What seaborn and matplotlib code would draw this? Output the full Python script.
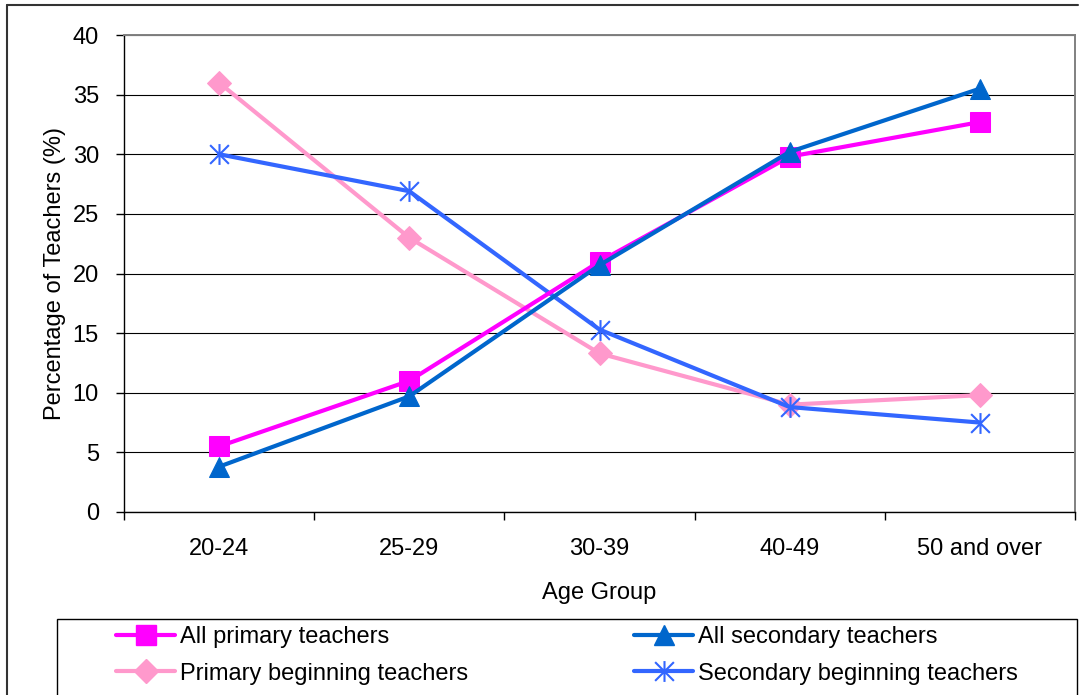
import matplotlib
matplotlib.use("Agg")
import matplotlib.pyplot as plt
from matplotlib.path import Path
from matplotlib.lines import Line2D
import seaborn as sns
import pandas as pd

age_groups = ["20-24", "25-29", "30-39", "40-49", "50 and over"]
all_primary = [5.5, 11.0, 21.0, 29.8, 32.7]
all_secondary = [3.8, 9.7, 20.7, 30.2, 35.5]
primary_beginning = [36.0, 23.0, 13.3, 9.0, 9.8]
secondary_beginning = [30.0, 26.9, 15.3, 8.8, 7.5]

series_names = ["All primary teachers", "All secondary teachers",
                "Primary beginning teachers", "Secondary beginning teachers"]
series_values = [all_primary, all_secondary, primary_beginning, secondary_beginning]

rows = []
for name, vals in zip(series_names, series_values):
    for age, v in zip(age_groups, vals):
        rows.append({"Age Group": age, "pct": v, "series": name})
df = pd.DataFrame(rows)

sns.set_theme(style="white")
plt.rcParams["font.family"] = ["Liberation Sans", "DejaVu Sans"]
FS = 17
LW = 3.0

# excel style asterisk: vertical bar plus an X
star = Path([(0, -1), (0, 1), (-0.9, -0.9), (0.9, 0.9), (-0.9, 0.9), (0.9, -0.9)],
            [Path.MOVETO, Path.LINETO, Path.MOVETO, Path.LINETO, Path.MOVETO, Path.LINETO])

styles = {
    "All primary teachers": dict(color="#FF00FF", marker="s", markersize=14),
    "All secondary teachers": dict(color="#0066CC", marker="^", markersize=15),
    "Primary beginning teachers": dict(color="#FF99CC", marker="D", markersize=12),
    "Secondary beginning teachers": dict(color="#3366FF", marker=star, markersize=15,
                                         markerfacecolor="none", markeredgewidth=1.5),
}
draw_order = ["Primary beginning teachers", "Secondary beginning teachers",
              "All primary teachers", "All secondary teachers"]

fig = plt.figure(figsize=(10.83, 6.95), dpi=100)
ax = fig.add_axes([124 / 1083, 1 - 512 / 695, (1075 - 124) / 1083, (512 - 35) / 695])

for name in draw_order:
    st = styles[name]
    sub = df[df["series"] == name]
    sns.lineplot(data=sub, x="Age Group", y="pct", ax=ax, sort=False,
                 linewidth=LW, markeredgecolor=st["color"], label=name, legend=False,
                 **st)

ax.set_xlim(-0.5, len(age_groups) - 0.5)
ax.set_ylim(0, 40)
ax.set_yticks(range(0, 41, 5))
ax.set_xticks(range(len(age_groups)))
ax.set_xticklabels(age_groups)
ax.set_xticks([i - 0.5 for i in range(len(age_groups) + 1)], minor=True)
ax.tick_params(axis="x", which="major", length=0, pad=19, labelsize=FS, colors="black")
ax.tick_params(axis="x", which="minor", length=6, width=1, color="black", direction="out", bottom=True)
ax.tick_params(axis="y", length=6, width=1, color="black", direction="out", left=True,
               pad=12, labelsize=FS, labelcolor="black")
ax.yaxis.grid(True, color="black", linewidth=0.8)
ax.xaxis.grid(False)
ax.set_axisbelow(True)

for side in ["left", "bottom"]:
    ax.spines[side].set_color("black")
    ax.spines[side].set_linewidth(1)
for side in ["top", "right"]:
    ax.spines[side].set_color("#808080")
    ax.spines[side].set_linewidth(1.4)

ax.set_xlabel("Age Group", fontsize=FS, labelpad=15.5, color="black")
ax.set_ylabel("Percentage of Teachers (%)", fontsize=FS, labelpad=5, color="black")

# legend: two columns inside a plain box below the chart (row-wise order)
legend_order = ["All primary teachers", "Primary beginning teachers",
                "All secondary teachers", "Secondary beginning teachers"]
handles = []
for name in legend_order:
    st = styles[name]
    handles.append(Line2D([0], [0], linewidth=LW, markeredgecolor=st["color"], **st))
leg = fig.legend(handles, legend_order, ncol=2, loc="upper left",
                 bbox_to_anchor=(116 / 1083, 1 - 626 / 695), frameon=False,
                 fontsize=FS, handlelength=2.5, handletextpad=0.2,
                 columnspacing=7.05, labelspacing=0.62, borderpad=0, borderaxespad=0)
for t in leg.get_texts():
    t.set_color("black")

fig.add_artist(plt.Rectangle((57 / 1083, -0.1), (1077 - 57) / 1083, 1.1 - 619 / 695,
                             transform=fig.transFigure, fill=False, edgecolor="black", linewidth=1))
# outer chart border (only top and left visible in the crop)
fig.add_artist(Line2D([7 / 1083, 1078 / 1083], [1 - 5 / 695] * 2, transform=fig.transFigure,
                      color="#333333", linewidth=1.5))
fig.add_artist(Line2D([7 / 1083] * 2, [0, 1 - 5 / 695], transform=fig.transFigure,
                      color="#333333", linewidth=1.5))

fig.savefig("out.png", dpi=100)
